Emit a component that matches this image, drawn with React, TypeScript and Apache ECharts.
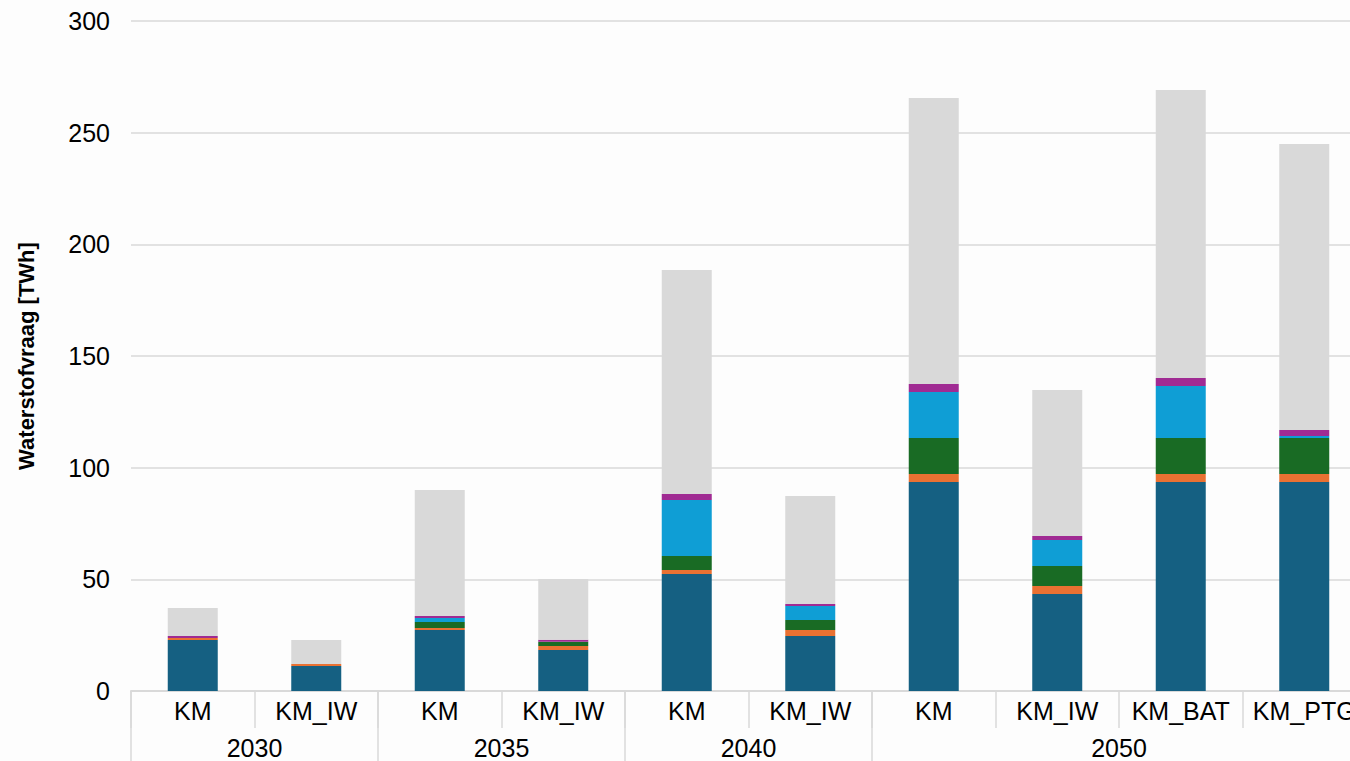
import React, { useEffect, useRef } from "react";
import * as echarts from "echarts";

const categories = ["KM", "KM_IW", "KM", "KM_IW", "KM", "KM_IW", "KM", "KM_IW", "KM_BAT", "KM_PTG"];
const yearLabels = ["2030", "2035", "2040", "2050"];
const yearGroupSizes = [2, 2, 2, 4];

const seriesNames = ["Categorie 1", "Categorie 2", "Categorie 3", "Categorie 4", "Categorie 5", "Categorie 6"];
const seriesColors = ["#156082", "#E97132", "#196B24", "#0F9ED5", "#A02B93", "#D9D9D9"];

const blueValues = [22.8, 11.2, 27.3, 18.4, 52.4, 24.6, 93.6, 43.4, 93.6, 93.6];
const orangeValues = [0.9, 0.9, 0.9, 1.8, 1.8, 2.7, 3.6, 3.6, 3.6, 3.6];
const greenValues = [0, 0, 2.7, 1.8, 6.2, 4.5, 16.1, 9.0, 16.1, 16.1];
const cyanValues = [0, 0, 1.8, 0, 25.1, 6.3, 20.6, 11.6, 23.3, 0.9];
const purpleValues = [0.9, 0, 0.9, 0.9, 2.7, 0.9, 3.6, 1.8, 3.5, 2.7];
const grayValues = [12.6, 10.7, 56.4, 27.3, 100.3, 48.3, 128.0, 65.4, 129.0, 128.0];

const seriesValues = [blueValues, orangeValues, greenValues, cyanValues, purpleValues, grayValues];

const yTicks = { min: 0, max: 300, interval: 50 };

export default function App() {
  const ref = useRef<HTMLDivElement>(null);

  useEffect(() => {
    if (!ref.current) return;
    const chart = echarts.init(ref.current, null, { renderer: "svg" });

    // Build a 21-point axis (half-category resolution) for the year level
    const halfCount = categories.length * 2;
    const yearData: string[] = [];
    for (let i = 0; i <= halfCount; i++) yearData.push("");
    const boundaryIdx: number[] = [0];
    const labelIdx: Record<number, string> = {};
    let pos = 0;
    yearGroupSizes.forEach((size, gi) => {
      labelIdx[pos + size] = yearLabels[gi];
      pos += size * 2;
      boundaryIdx.push(pos);
    });
    Object.keys(labelIdx).forEach((k) => {
      yearData[Number(k)] = labelIdx[Number(k)];
    });

    const font = "Liberation Sans, Arial, sans-serif";

    chart.setOption({
      animation: false,
      backgroundColor: "#fdfdfd",
      grid: { left: 131, right: 0, top: 21, bottom: 70, containLabel: false },
      xAxis: [
        {
          type: "category",
          data: categories,
          position: "bottom",
          axisLine: { show: true, lineStyle: { color: "#d9d9d9", width: 2 } },
          axisTick: { show: true, interval: 0, length: 37, lineStyle: { color: "#d9d9d9", width: 1.5 } },
          axisLabel: { interval: 0, color: "#000", fontSize: 25, fontFamily: font, margin: 7 },
          splitLine: { show: false },
        },
        {
          type: "category",
          data: yearData,
          position: "bottom",
          boundaryGap: false,
          axisLine: { show: false },
          axisTick: {
            show: true,
            interval: (idx: number) => boundaryIdx.indexOf(idx) >= 0,
            length: 70,
            lineStyle: { color: "#d9d9d9", width: 1.5 },
          },
          axisLabel: {
            interval: (idx: number) => yearData[idx] !== "",
            color: "#000",
            fontSize: 25,
            fontFamily: font,
            margin: 44,
          },
          splitLine: { show: false },
        },
      ],
      yAxis: {
        type: "value",
        min: yTicks.min,
        max: yTicks.max,
        interval: yTicks.interval,
        name: "Waterstofvraag [TWh]",
        nameLocation: "middle",
        nameGap: 94,
        nameTextStyle: { fontSize: 22, fontWeight: "bold", color: "#000", fontFamily: font },
        axisLine: { show: false },
        axisTick: { show: false },
        axisLabel: { color: "#000", fontSize: 25, fontFamily: font, margin: 21 },
        splitLine: { show: true, lineStyle: { color: "#d9d9d9", width: 1.5 } },
      },
      series: seriesValues.map((vals, i) => ({
        name: seriesNames[i],
        type: "bar",
        stack: "total",
        xAxisIndex: 0,
        barWidth: 50,
        data: vals,
        itemStyle: { color: seriesColors[i] },
      })),
    });

    return () => chart.dispose();
  }, []);

  return (
    <div
      ref={ref}
      style={{ position: "fixed", left: 0, top: 0, width: 1366, height: 761 }}
    />
  );
}
